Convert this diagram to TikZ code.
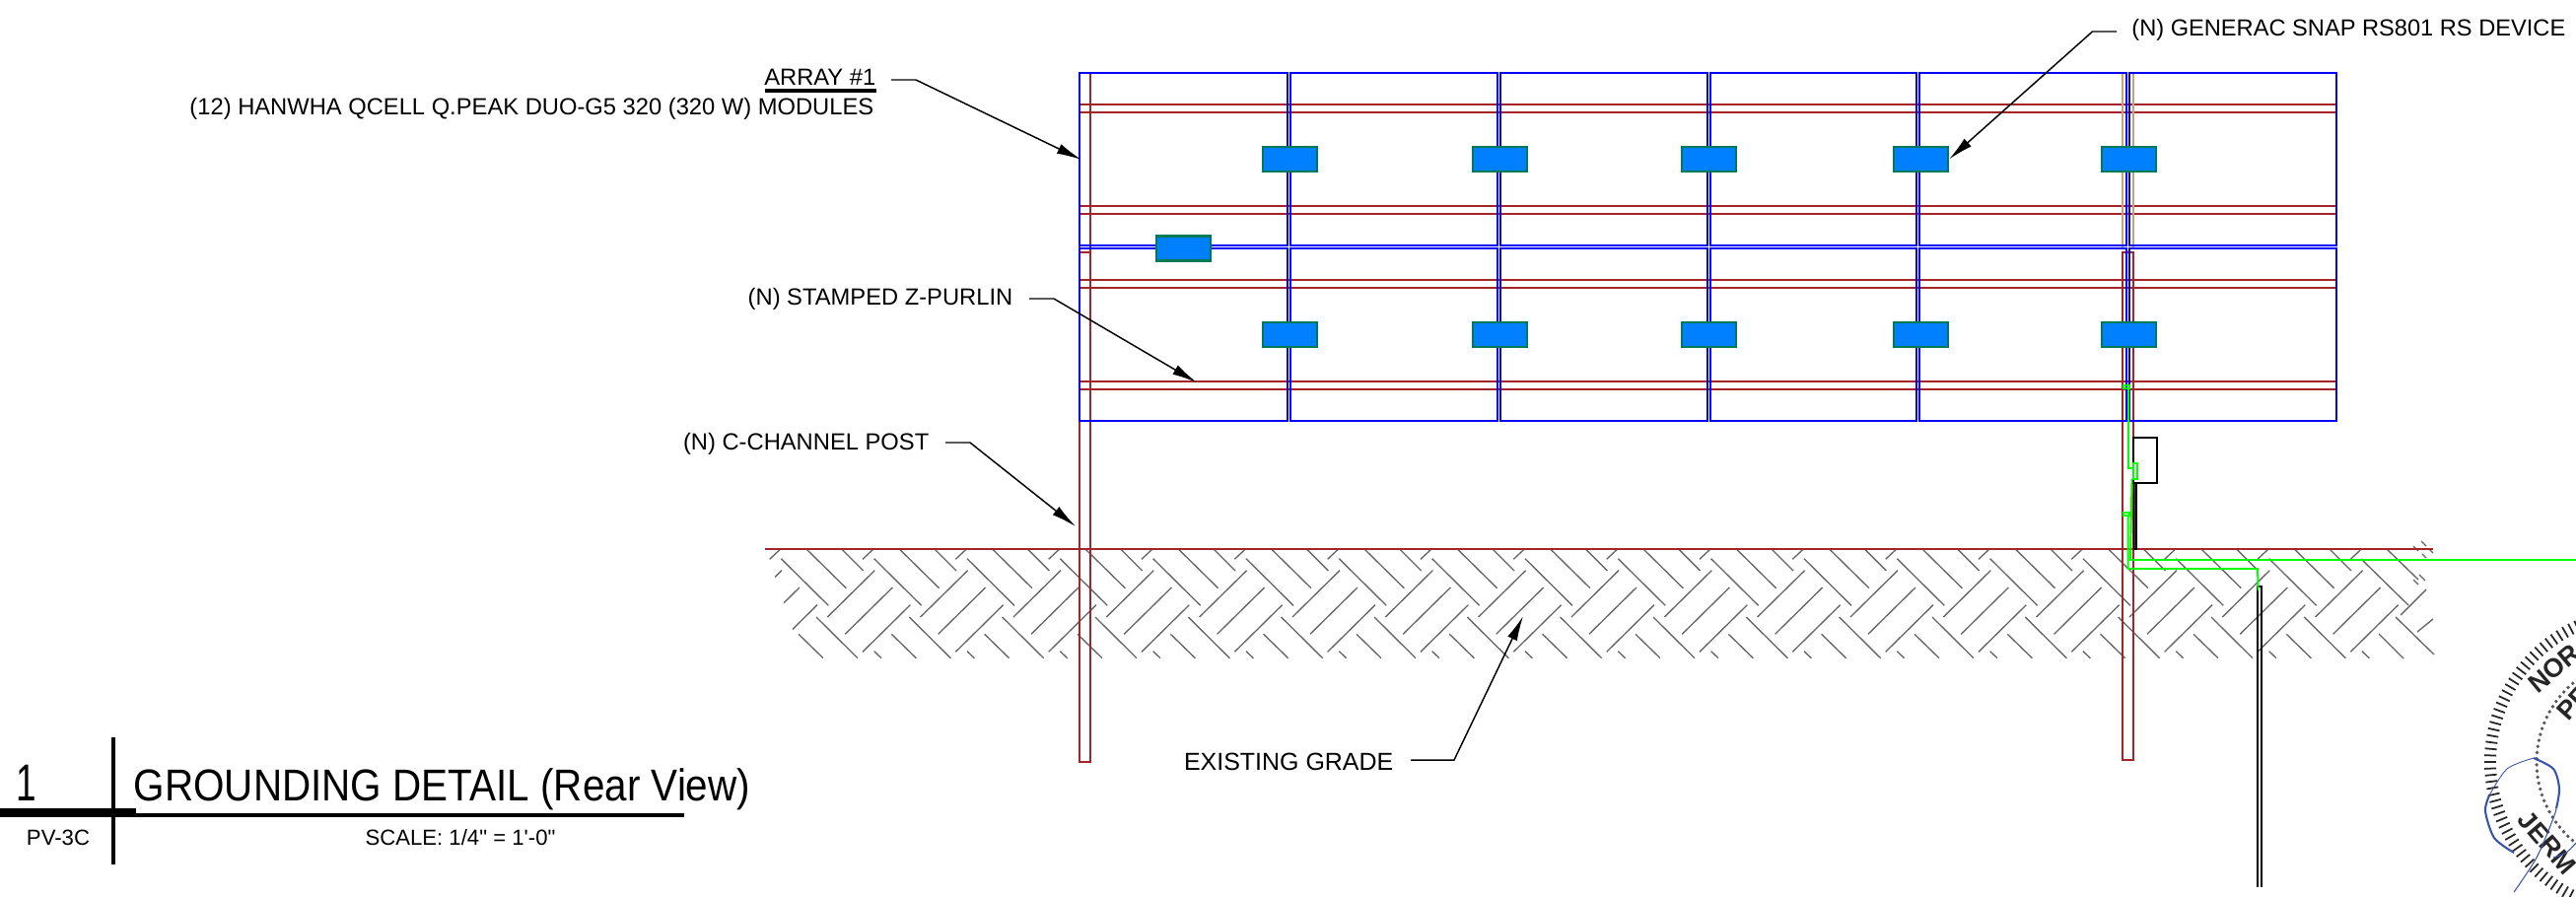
\documentclass[tikz,border=0pt]{standalone}
\usepackage{fontspec}
\setmainfont{Liberation Sans}
\usepackage{tikz}
\usetikzlibrary{arrows.meta}
\definecolor{framered}{HTML}{A52428}
\definecolor{posttan}{HTML}{C8A27E}
\definecolor{panelblue}{HTML}{0000FF}
\definecolor{devblue}{HTML}{0080FF}
\definecolor{devedge}{HTML}{007A55}
\definecolor{wiregreen}{HTML}{00FF00}
\definecolor{soilgray}{HTML}{666666}
\definecolor{inkblue}{HTML}{3A55A8}
\tikzset{
  panel/.style={draw=panelblue,line width=0.8pt},
  rail/.style={draw=framered,line width=0.5pt},
  post/.style={draw=framered,line width=0.6pt},
  rsdevice/.style={draw=devedge,fill=devblue,line width=0.6pt,minimum width=0.55cm,minimum height=0.25cm,inner sep=0pt},
  wire/.style={draw=wiregreen,line width=0.55pt},
  soil/.style={draw=soilgray,line width=0.38pt},
  leader/.style={draw=black,line width=0.42pt,-{Latex[length=7.2pt,width=3pt]}},
  lbl/.style={font=\fontsize{6.75}{8}\selectfont,inner sep=0pt,anchor=base east},
  sealtxt/.style={font=\fontsize{7.6}{9}\selectfont\bfseries,text=black!85,inner sep=0pt}
}
\begin{document}
\begin{tikzpicture}[x=0.01cm,y=-0.01cm]
\clip (0,0) rectangle (2613,909);
% soil
\begin{scope}
\clip (779,557) -- (780,567) -- (808,650) -- (812,668) -- (2469,668) -- (2469,557) -- cycle;
\foreach \k in {-1,...,16} {
  \pgfmathsetmacro\dx{\k*94.33}
  \begin{scope}[shift={(\dx,0)}]
  \draw[soil] (818.3,557.3) -- (858.3,596.7);
  \draw[soil] (854,557.3) -- (875.7,579);
  \draw[soil] (792.3,566.7) -- (840.3,614.3);
  \draw[soil] (828,626) -- (870,667.7);
  \draw[soil] (810,643.3) -- (835,667.7);
  \draw[soil] (875,567.3) -- (885.7,557.3);
  \draw[soil] (839.3,626) -- (887.3,578.7);
  \draw[soil] (857.3,643.3) -- (905.3,596);
  \draw[soil] (875,661.3) -- (923.3,613.7);
  \draw[soil] (886.7,660.7) -- (894,667.7);
  \end{scope}
}
\end{scope}
\draw[soil] (2421,557) -- (2453,588);
\draw[soil] (2395,567) -- (2443,614);
\draw[soil] (2435,624) -- (2461,598);
\draw[soil] (2430,626) -- (2469,664);
\draw[soil] (2452,641) -- (2468,628);
\draw[soil] (2413,643) -- (2438,668);
\draw[soil] (2448,554) -- (2453,559);
\draw[soil] (2456,549) -- (2461,554);
\draw[soil] (2457,562) -- (2461,566);
\draw[soil] (2464,557) -- (2468,561);
\draw[soil] (2448,588) -- (2453,593);
\draw[soil] (2454,583) -- (2460,589);
% rails
\foreach \y in {106,114,209,217,284,292,387,395} {\draw[rail] (1095,\y) -- (2370,\y);}
% posts
\draw[post] (1095,74) -- (1095,773) -- (1106,773) -- (1106,74);
\draw[post] (1095,256) -- (1107,256);
\draw[draw=posttan,line width=0.6pt] (2153,74) -- (2153,252);
\draw[draw=posttan,line width=0.6pt] (2164,74) -- (2164,252);
\draw[post] (2153,256) -- (2164,256) -- (2164,771) -- (2153,771) -- cycle;
% panels
\foreach \l/\r in {1095/1306,1309/1519,1522/1732,1735/1944,1947/2157,2160/2370} {
  \draw[panel] (\l,74) rectangle (\r,249);
  \draw[panel] (\l,252) rectangle (\r,427);
}
\draw[draw=framered,line width=0.6pt] (776,557) -- (2468,557);
% devices
\foreach \i/\x in {1/1308.5,2/1521.5,3/1733.5,4/1948.5,5/2159.5} {
  \node[rsdevice] (upper\i) at (\x,161.5) {};
  \node[rsdevice] (lower\i) at (\x,339.5) {};
}
\node[rsdevice] (spare) at (1200.5,252) {};
% box and conduit
\draw[line width=0.55pt] (2164,444) rectangle (2188,490);
\draw[fill=black!75,line width=0.45pt] (2164.5,490) rectangle (2167,557);
\draw[line width=0.5pt] (2290,900) -- (2290,595) -- (2294,595) -- (2294,900);
% ground wires
\draw[wire] (2154,391) rectangle (2160,394);
\draw[wire] (2159,394) -- (2159,475) -- (2165,475);
\draw[wire] (2164,470) rectangle (2168,486);
\draw[wire] (2162.5,486) -- (2161,568) -- (2613,568);
\draw[wire] (2154,520) rectangle (2160,523);
\draw[wire] (2158.5,523) -- (2158.5,577) -- (2290,577) -- (2290.5,599);
% labels
\node[lbl] (arraylab) at (889,87) {ARRAY \#1};
\node[lbl] (modlab) at (887,116) {(12) HANWHA QCELL Q.PEAK DUO-G5 320 (320 W) MODULES};
\node[lbl] (purlinlab) at (1028,309) {(N) STAMPED Z-PURLIN};
\node[lbl] (postlab) at (943,456) {(N) C-CHANNEL POST};
\node[lbl,font=\fontsize{7.1}{8}\selectfont] (gradelab) at (1414,781) {EXISTING GRADE};
\node[lbl,font=\fontsize{6.72}{8}\selectfont] (rsdlab) at (2603,37) {(N) GENERAC SNAP RS801 RS DEVICE};
\draw[line width=0.3pt] (776,91) -- (889,91);
\draw[line width=0.3pt] (776,93) -- (889,93);
% leaders
\coordinate (arraya) at (904,81);
\coordinate (arrayb) at (929,81);
\coordinate (arrayc) at (1097,162);
\coordinate (purlina) at (1044,303);
\coordinate (purlinb) at (1069,303);
\coordinate (purlinc) at (1214,388);
\coordinate (posta) at (959,449);
\coordinate (postb) at (984,449);
\coordinate (postc) at (1091,534);
\coordinate (gradea) at (1431,771);
\coordinate (gradeb) at (1475,771);
\coordinate (gradec) at (1545,625);
\coordinate (rsda) at (2147,32);
\coordinate (rsdb) at (2122.5,32);
\draw[leader] (arraya) -- (arrayb) -- (arrayc);
\draw[leader] (purlina) -- (purlinb) -- (purlinc);
\draw[leader] (posta) -- (postb) -- (postc);
\draw[leader] (gradea) -- (gradeb) -- (gradec);
\draw[leader] (rsda) -- (rsdb) -- (upper4.east);
% title block
\draw[line width=1pt] (115,748) -- (115,877);
\draw[line width=2.6pt] (0,824.5) -- (138,824.5);
\draw[line width=1.1pt] (138,827) -- (694,827);
\node[inner sep=0pt,anchor=base] (viewnum) at (27,812) {\fontsize{15}{17}\selectfont\scalebox{0.7}[1]{1}};
\node[inner sep=0pt,anchor=base west] (viewname) at (135,812) {\fontsize{11.5}{14}\selectfont\scalebox{1}[1.12]{GROUNDING DETAIL (Rear View)}};
\node[inner sep=0pt,anchor=base] (sheetlab) at (59,857) {\fontsize{6.3}{8}\selectfont PV-3C};
\node[inner sep=0pt,anchor=base] (scalelab) at (467,857) {\fontsize{6.3}{8}\selectfont SCALE: 1/4\textquotedbl{} = 1\textquotesingle{}-0\textquotedbl{}};
% seal
\foreach \a in {100,102.5,...,262.5} {
  \draw[black!85,line width=0.5pt] ({2678+146*cos(\a)},{773-146*sin(\a)}) -- ({2678+158*cos(\a)},{773-158*sin(\a)});
}
\foreach \a in {100,103.4,...,262} {
  \fill[black!65] ({2678+105*cos(\a)},{773-105*sin(\a)}) circle (1.9);
}
\node[sealtxt,rotate=40] (sealtop) at (2591,678) {NOR};
\node[sealtxt,rotate=48] (sealmid) at (2611,713) {PR};
\node[sealtxt,rotate=-49] (sealname) at (2584,855) {JERM};
% signature
\draw[inkblue,line width=0.6pt] plot[smooth] coordinates {(2550,865) (2530,850) (2521,823) (2525,807)};
\draw[inkblue,line width=0.25pt] plot[smooth] coordinates {(2525,807) (2543,780) (2570,769)};
\draw[inkblue,line width=0.6pt] plot[smooth] coordinates {(2570,769) (2590,780) (2596,800) (2593,820)};
\draw[inkblue,line width=0.3pt] plot[smooth] coordinates {(2593,820) (2590,830) (2573,870) (2550,905)};
\draw[inkblue,line width=0.3pt] plot[smooth] coordinates {(2590,870) (2603,865) (2613,855)};
\end{tikzpicture}
\end{document}
